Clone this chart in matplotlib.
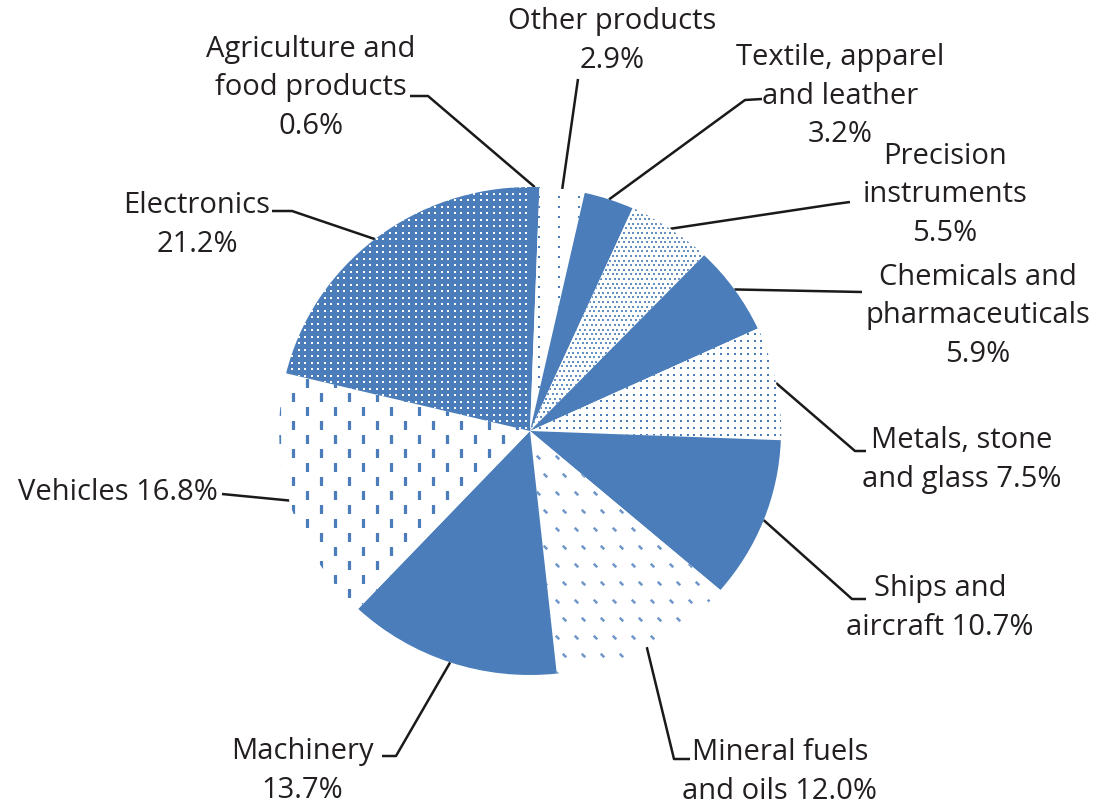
import numpy as np
import matplotlib
matplotlib.use('Agg')
import matplotlib.pyplot as plt
from matplotlib.path import Path

# ---------------- data ----------------
categories = ['Agriculture and\nfood products', 'Other products', 'Textile, apparel\nand leather',
              'Precision\ninstruments', 'Chemicals and\npharmaceuticals', 'Metals, stone\nand glass',
              'Ships and\naircraft', 'Mineral fuels\nand oils', 'Machinery', 'Vehicles', 'Electronics']
shares = [0.6, 2.9, 3.2, 5.5, 5.9, 7.5, 10.7, 12.0, 13.7, 16.8, 21.2]
value_sep = ['\n', '\n', '\n', '\n', '\n', ' ', ' ', ' ', '\n', ' ', '\n']

# ---------------- layout / style ----------------
W, H = 1108, 804
cx, cy, rx, ry = 530, 432, 251, 244          # pie centre / radii in pixels
BLUE = '#4a7dba'
TXT = '#231f20'
textures = ['solid', 'sparse_dots', 'solid', 'fine_dots', 'solid', 'dots',
            'solid', 'diag_dash', 'solid', 'vdash', 'white_dots']
# label block positions (pixels) and alignment
label_pos = [(311, 88), (612, 41), (840, 96), (945, 195), (978, 316), (962, 460),
             (940, 608), (780, 772), (302, 771), (218, 493), (197, 225)]
label_ha = ['center'] * 9 + ['right', 'center']
# leader line elbows (pixels), ending at the wedge's outer mid point
elbows = [[(410, 97), (428, 97)], [(578, 80)], [(762, 100), (745, 101)],
          [(850, 203), (835, 205)], [(862, 293)], [(866, 452), (855, 452)],
          [(866, 600), (852, 600)], [(690, 760), (674, 760)], [(382, 757), (396, 757)],
          [(222, 495)], [(272, 212), (292, 212)]]

fig = plt.figure(figsize=(W / 100, H / 100), dpi=100)
ax = fig.add_axes([(cx - rx) / W, (H - cy - ry) / H, 2 * rx / W, 2 * ry / H])

face = ['white' if t != 'solid' and t != 'white_dots' else BLUE for t in textures]
wedges, _ = ax.pie(shares, startangle=90, counterclock=False, colors=face,
                   wedgeprops=dict(linewidth=0), radius=1)
ax.set_aspect('auto')
ax.set_xlim(-1, 1)
ax.set_ylim(-1, 1)
ax.axis('off')


def grid(dx, dy, stagger=0.0, ox=0.0, oy=0.0):
    ys = np.arange(cy - ry - 2 * dy, cy + ry + 2 * dy, dy) + oy
    pts = []
    for i, y in enumerate(ys):
        xs = np.arange(cx - rx - 2 * dx, cx + rx + 2 * dx, dx) + ox + (i % 2) * stagger
        pts.append(np.column_stack([xs, np.full_like(xs, y)]))
    P = np.vstack(pts)
    return (P[:, 0] - cx) / rx, -(P[:, 1] - cy) / ry


def texture(wedge, xy, **kw):
    ln, = ax.plot(xy[0], xy[1], ls='none', **kw)
    ln.set_clip_path(wedge)


px = 0.72  # points per pixel
dash_path = Path([(-1, 1), (1, -1)], [Path.MOVETO, Path.LINETO])
for w, t in zip(wedges, textures):
    if t == 'white_dots':
        texture(w, grid(6.5, 6.5), marker='s', ms=2.6 * px, mew=0, mfc='white')
    elif t == 'sparse_dots':
        texture(w, grid(20, 10), marker='s', ms=2.8 * px, mew=0, mfc=BLUE)
    elif t == 'fine_dots':
        texture(w, grid(4.6, 4.6, stagger=2.3), marker='s', ms=2.4 * px, mew=0,
                mfc=BLUE, alpha=0.85)
    elif t == 'dots':
        texture(w, grid(6.7, 6.7), marker='s', ms=2.6 * px, mew=0, mfc=BLUE)
    elif t == 'diag_dash':
        texture(w, grid(19, 18, stagger=12), marker=dash_path, ms=3.5 * px,
                mew=1.8, mec=BLUE, alpha=0.8)
    elif t == 'vdash':
        texture(w, grid(28, 14, stagger=14), marker='|', ms=8.5 * px,
                mew=3.2 * px, mec=BLUE)

# overlay for leader lines (under the pie) in pixel coordinates
ov = fig.add_axes([0, 0, 1, 1], zorder=-1)
ov.set_xlim(0, W)
ov.set_ylim(H, 0)
ov.axis('off')
ax.set_zorder(2)
ax.patch.set_alpha(0)

tx = fig.add_axes([0, 0, 1, 1], zorder=3)
tx.set_xlim(0, W)
tx.set_ylim(H, 0)
tx.axis('off')
tx.patch.set_alpha(0)

total = sum(shares)
cum = 0.0
for i, (cat, s) in enumerate(zip(categories, shares)):
    mid = 90 - 360 * (cum + s / 2) / total
    cum += s
    ax_x = cx + rx * np.cos(np.radians(mid))
    ax_y = cy - ry * np.sin(np.radians(mid))
    pts = elbows[i] + [(ax_x, ax_y)]
    ov.plot([p[0] for p in pts], [p[1] for p in pts], color='#1a1a1a', lw=1.8,
            solid_capstyle='butt')
    label = f'{cat}{value_sep[i]}{s:.1f}%'
    tx.text(label_pos[i][0], label_pos[i][1], label, ha=label_ha[i], va='center',
            multialignment='center', fontsize=21, family='Open Sans', color=TXT,
            linespacing=1.45)

fig.savefig('out.png', dpi=100)
